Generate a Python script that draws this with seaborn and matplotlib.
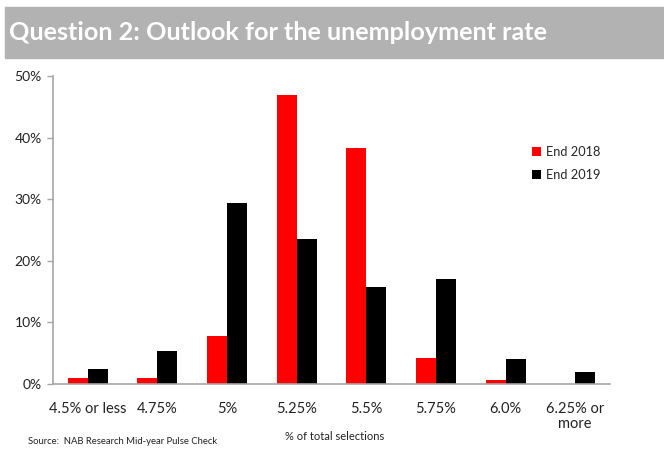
import matplotlib
matplotlib.use("Agg")
import matplotlib.pyplot as plt
import seaborn as sns
import pandas as pd
from matplotlib.ticker import FuncFormatter

categories = ["4.5% or less", "4.75%", "5%", "5.25%", "5.5%", "5.75%", "6.0%", "6.25% or\nmore"]
end_2018 = [0.9, 0.9, 7.8, 46.9, 38.3, 4.3, 0.6, 0.0]
end_2019 = [2.4, 5.4, 29.4, 23.6, 15.7, 17.1, 4.1, 2.0]
series_names = ["End 2018", "End 2019"]
yticks = [0, 10, 20, 30, 40, 50]

df = pd.DataFrame({
    "category": categories * 2,
    "value": end_2018 + end_2019,
    "series": [series_names[0]] * len(categories) + [series_names[1]] * len(categories),
})

sns.set_theme(style="white")
plt.rcParams["font.family"] = ["Lato", "DejaVu Sans"]

fig = plt.figure(figsize=(6.64, 4.5), dpi=100)
ax = fig.add_axes([53 / 664, 1 - 384 / 450, (610 - 53) / 664, (384 - 76) / 450])

sns.barplot(data=df, x="category", y="value", hue="series", order=categories,
            palette={"End 2018": "#ff0000", "End 2019": "#000000"},
            width=0.575, gap=0, ax=ax, saturation=1, edgecolor="none", linewidth=0)

ax.set_ylim(0, 50)
ax.set_xlim(-0.5, len(categories) - 0.5)
ax.set_yticks(yticks)
ax.yaxis.set_major_formatter(FuncFormatter(lambda v, p: f"{v:.0f}%"))
ax.set_xlabel("")
ax.set_ylabel("")
for s in ["top", "right"]:
    ax.spines[s].set_visible(False)
for s in ["left", "bottom"]:
    ax.spines[s].set_color("#a6a6a6")
    ax.spines[s].set_linewidth(1.2)
ax.tick_params(axis="y", length=4, width=1, color="#a6a6a6", direction="out",
               labelsize=10, labelcolor="#222222", pad=4, left=True)
ax.tick_params(axis="x", length=0, labelsize=10.5, labelcolor="#222222", pad=13)
for lbl in ax.get_xticklabels():
    lbl.set_linespacing(1.1)

leg = ax.legend(loc="upper left", bbox_to_anchor=(527 / 664, 1 - 141 / 450),
                bbox_transform=fig.transFigure, frameon=False, fontsize=9.2,
                handlelength=0.7, handleheight=0.7, handletextpad=0.4,
                labelspacing=0.85, borderaxespad=0)

# Title bar
fig.patches.append(plt.Rectangle((5 / 664, 1 - 58 / 450), 659 / 664, 51 / 450,
                                 transform=fig.transFigure, color="#b2b2b2", zorder=0))
fig.text(9 / 664, 1 - 33 / 450, "Question 2: Outlook for the unemployment rate",
         color="white", fontsize=18.2, fontweight="bold", va="center", ha="left")

fig.text(335 / 664, 1 - 437 / 450, "% of total selections", fontsize=8,
         color="#222222", ha="center", va="center")
fig.text(28 / 664, 1 - 441 / 450, "Source:  NAB Research Mid-year Pulse Check",
         fontsize=6.8, color="#222222", ha="left", va="center")

fig.savefig("out.png", dpi=100)
